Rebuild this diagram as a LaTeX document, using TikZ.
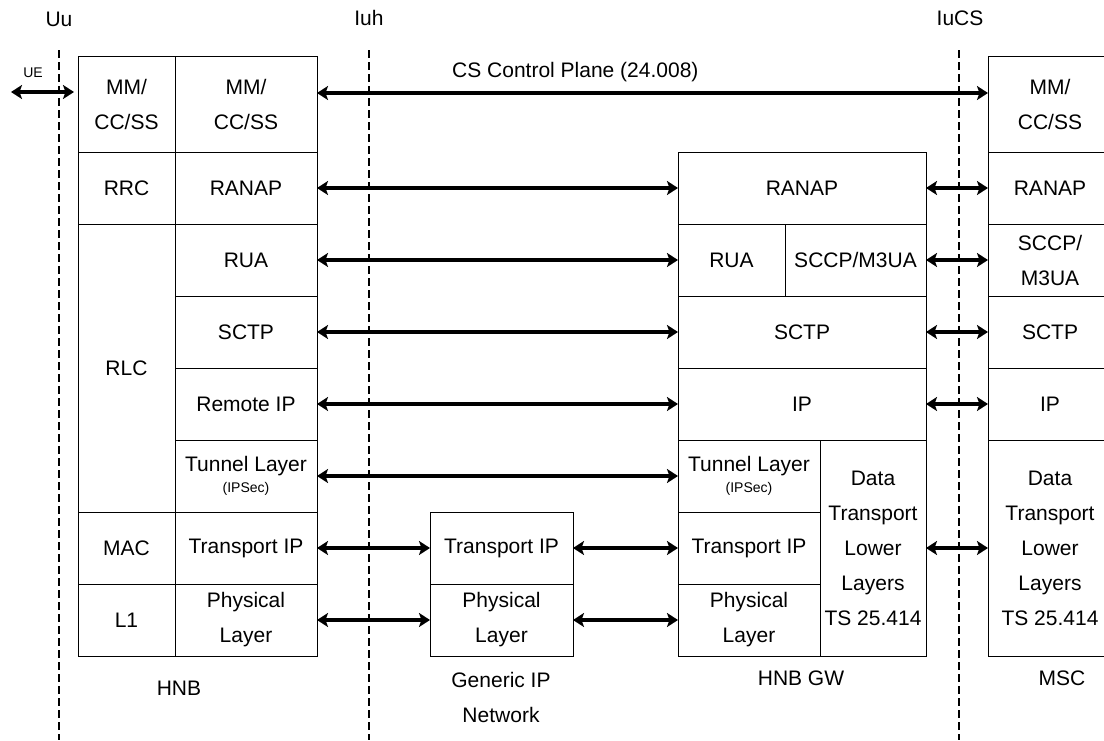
\documentclass[tikz,border=0pt]{standalone}
\usepackage{fontspec}
\setmainfont{Liberation Sans}
\usetikzlibrary{arrows.meta, positioning}

\begin{document}
\begin{tikzpicture}[
    x=1pt, y=-1pt,
    % --- STYLES ---
    every node/.style={font=\fontsize{21}{35}\selectfont},
    cell/.style={draw, line width=1pt, inner sep=0pt, outer sep=0pt, align=center, minimum height=72pt},
    tall/.style={cell, minimum height=96pt},
    hnbleft/.style={cell, minimum width=97pt},
    hnbright/.style={cell, minimum width=142pt},
    gwwide/.style={cell, minimum width=248pt},
    msccol/.style={cell, minimum width=124pt},
    smalltext/.style={font=\fontsize{14}{16}\selectfont},
    link/.style={{Stealth[length=11pt, width=14pt, inset=2.5pt]}-{Stealth[length=11pt, width=14pt, inset=2.5pt]}, line width=3.5pt},
    boundary/.style={line width=2.5pt, dash pattern=on 8pt off 4pt}
]
    \useasboundingbox[fill=white] (0,0) rectangle (1104,740);

    % ==========================================
    % INTERFACE BOUNDARIES
    % ==========================================
    \node (uu) at (59,19) {Uu};
    \node (iuh) at (369,18) {Iuh};
    \node (iucs) at (960,18) {IuCS};
    \draw[boundary] (59,50) -- (59,740);
    \draw[boundary] (369,50) -- (369,740);
    \draw[boundary] (959,50) -- (959,740);

    % ==========================================
    % HNB
    % ==========================================
    \node[hnbleft, tall, anchor=north west] (mmue) at (78,56) {MM/\\CC/SS};
    \node[hnbright, tall, right=0pt of mmue] (mmhnb) {MM/\\CC/SS};
    \node[hnbleft, below=0pt of mmue] (rrc) {RRC};
    \node[hnbleft, minimum height=288pt, below=0pt of rrc] (rlc) {RLC};
    \node[hnbleft, below=0pt of rlc] (mac) {MAC};
    \node[hnbleft, below=0pt of mac] (lone) {L1};

    \node[hnbright, below=0pt of mmhnb] (ranaphnb) {RANAP};
    \node[hnbright, below=0pt of ranaphnb] (ruahnb) {RUA};
    \node[hnbright, below=0pt of ruahnb] (sctphnb) {SCTP};
    \node[hnbright, below=0pt of sctphnb] (iphnb) {Remote IP};
    \node[hnbright, below=0pt of iphnb] (tunhnb) {Tunnel Layer\\[-14pt]{\fontsize{14}{16}\selectfont (IPSec)}};
    \node[hnbright, below=0pt of tunhnb] (tiphnb) {Transport IP};
    \node[hnbright, below=0pt of tiphnb] (phyhnb) {Physical\\Layer};

    \node (hnb) at (179,688) {HNB};

    % ==========================================
    % GENERIC IP NETWORK
    % ==========================================
    \node[cell, minimum width=143pt, anchor=north west] (tipgip) at (430,512) {Transport IP};
    \node[cell, minimum width=143pt, below=0pt of tipgip] (phygip) {Physical\\Layer};

    \node[align=center] (gipnet) at (501,697) {Generic IP\\Network};

    % ==========================================
    % HNB GW
    % ==========================================
    \node[gwwide, anchor=north west] (ranapgw) at (678,152) {RANAP};
    \node[cell, minimum width=107pt, below=0pt of ranapgw.south west, anchor=north west] (ruagw) {RUA};
    \node[cell, minimum width=141pt, right=0pt of ruagw] (sccpgw) {SCCP/M3UA};
    \node[gwwide, below=0pt of ruagw.south west, anchor=north west] (sctpgw) {SCTP};
    \node[gwwide, below=0pt of sctpgw] (ipgw) {IP};
    \node[hnbright, below=0pt of ipgw.south west, anchor=north west] (tungw) {Tunnel Layer\\[-14pt]{\fontsize{14}{16}\selectfont (IPSec)}};
    \node[hnbright, below=0pt of tungw] (tipgw) {Transport IP};
    \node[hnbright, below=0pt of tipgw] (phygw) {Physical\\Layer};
    \node[cell, minimum width=106pt, minimum height=216pt, right=0pt of tungw.north east, anchor=north west] (datagw) {Data\\Transport\\Lower\\Layers\\TS 25.414};

    \node (hnbgw) at (801,678) {HNB GW};

    % ==========================================
    % MSC
    % ==========================================
    \node[msccol, tall, anchor=north west] (mmmsc) at (988,56) {MM/\\CC/SS};
    \node[msccol, below=0pt of mmmsc] (ranapmsc) {RANAP};
    \node[msccol, below=0pt of ranapmsc] (sccpmsc) {SCCP/\\M3UA};
    \node[msccol, below=0pt of sccpmsc] (sctpmsc) {SCTP};
    \node[msccol, below=0pt of sctpmsc] (ipmsc) {IP};
    \node[msccol, minimum height=216pt, below=0pt of ipmsc] (datamsc) {Data\\Transport\\Lower\\Layers\\TS 25.414};

    \node (msc) at (1062,678) {MSC};

    % ==========================================
    % PEER LINKS
    % ==========================================
    \node[smalltext] (ue) at (33,73) {UE};
    \coordinate (uetip) at (11,92);
    \draw[link, shorten >=4pt] (uetip) -- (uetip -| mmue.west);

    \draw[link] ([yshift=11pt]mmhnb.east) -- node[pos=0.385, yshift=21pt] (csplane) {CS Control Plane (24.008)} ([yshift=11pt]mmmsc.west);

    \draw[link] (ranaphnb.east) -- (ranapgw.west);
    \draw[link] (ranapgw.east) -- (ranapmsc.west);
    \draw[link] (ruahnb.east) -- (ruagw.west);
    \draw[link] (sccpgw.east) -- (sccpmsc.west);
    \draw[link] (sctphnb.east) -- (sctpgw.west);
    \draw[link] (sctpgw.east) -- (sctpmsc.west);
    \draw[link] (iphnb.east) -- (ipgw.west);
    \draw[link] (ipgw.east) -- (ipmsc.west);
    \draw[link] (tunhnb.east) -- (tungw.west);
    \draw[link] (tiphnb.east) -- (tipgip.west);
    \draw[link] (tipgip.east) -- (tipgw.west);
    \draw[link] (phyhnb.east) -- (phygip.west);
    \draw[link] (phygip.east) -- (phygw.west);
    \draw[link] (datagw.east) -- (datamsc.west);

\end{tikzpicture}
\end{document}
